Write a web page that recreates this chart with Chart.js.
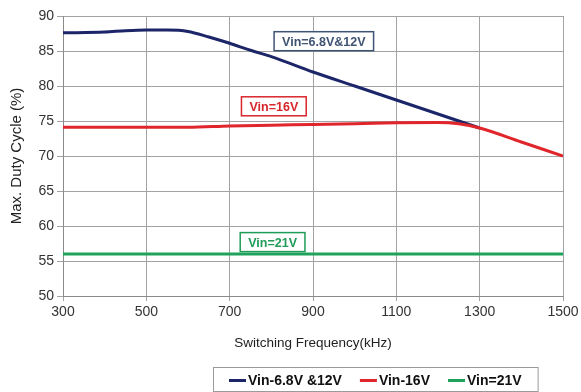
<!DOCTYPE html>
<html>
<head>
<meta charset="utf-8">
<script src="https://cdn.jsdelivr.net/npm/chart.js@4"></script>
<style>
  html, body { margin: 0; padding: 0; background: #fff; }
  #wrap { width: 581px; height: 392px; }
</style>
</head>
<body>
<div id="wrap"><canvas id="myChart"></canvas></div>
<script>
// data
const seriesNames = ['Vin-6.8V &12V', 'Vin-16V', 'Vin=21V'];

const freqLow = [300, 400, 450, 500, 550, 600, 650, 700, 750, 800, 900, 1000, 1100, 1200, 1300];
const dutyLow = [87.6, 87.7, 87.9, 88.0, 88.0, 87.8, 87.0, 86.1, 85.1, 84.2, 82.0, 80.0, 78.0, 76.0, 74.0];

const freqMid = [300, 500, 600, 700, 800, 900, 1000, 1100, 1200, 1250, 1300, 1400, 1500];
const dutyMid = [74.1, 74.1, 74.1, 74.3, 74.4, 74.5, 74.6, 74.75, 74.8, 74.6, 74.0, 72.0, 70.0];

const freqHigh = [300, 1500];
const dutyHigh = [56, 56];

const xTicks = [300, 500, 700, 900, 1100, 1300, 1500];
const yTicks = [50, 55, 60, 65, 70, 75, 80, 85, 90];

// callout boxes, anchored in data units
const callouts = [
  { text: 'Vin=6.8V&12V', x: 926, y: 86.4, color: '#3f5373' },
  { text: 'Vin=16V', x: 806, y: 77.1, color: '#d8262c' },
  { text: 'Vin=21V', x: 803, y: 57.7, color: '#1f9c58' }
];

const colors = ['#1b2568', '#e0252b', '#1fa35c'];
const FONT = '"Liberation Sans", Arial, sans-serif';

function pts(xs, ys) {
  return xs.map((x, i) => ({ x: x, y: ys[i] }));
}

const calloutPlugin = {
  id: 'callouts',
  afterDatasetsDraw(chart) {
    const ctx = chart.ctx;
    const xs = chart.scales.x, ys = chart.scales.y;
    ctx.save();
    ctx.font = 'bold 12.5px ' + FONT;
    ctx.textAlign = 'center';
    ctx.textBaseline = 'middle';
    callouts.forEach(c => {
      const cx = xs.getPixelForValue(c.x);
      const cy = ys.getPixelForValue(c.y);
      const w = ctx.measureText(c.text).width + 16;
      const h = 19;
      ctx.fillStyle = '#fff';
      ctx.fillRect(cx - w / 2, cy - h / 2, w, h);
      ctx.strokeStyle = c.color;
      ctx.lineWidth = 1.5;
      ctx.strokeRect(cx - w / 2, cy - h / 2, w, h);
      ctx.fillStyle = c.color;
      ctx.fillText(c.text, cx, cy + 1);
    });
    ctx.restore();
  }
};

const legendPlugin = {
  id: 'boxLegend',
  afterDraw(chart) {
    const ctx = chart.ctx;
    ctx.save();
    ctx.font = 'bold 14px ' + FONT;
    ctx.textBaseline = 'middle';
    ctx.textAlign = 'left';
    const y = 380.5;
    let x = 229;
    chart.data.datasets.forEach(ds => {
      ctx.strokeStyle = ds.borderColor;
      ctx.lineWidth = 3;
      ctx.beginPath();
      ctx.moveTo(x, y);
      ctx.lineTo(x + 17, y);
      ctx.stroke();
      x += 19;
      ctx.fillStyle = '#111';
      ctx.fillText(ds.label, x, y + 1);
      x += ctx.measureText(ds.label).width + 18;
    });
    ctx.strokeStyle = '#9a9a9a';
    ctx.lineWidth = 1;
    ctx.strokeRect(213.5, 367.5, x - 213 - 2, 24);
    ctx.restore();
  }
};

const ctx = document.getElementById('myChart');

let myChart = new Chart(ctx, {
  type: 'line',
  data: {
    datasets: [
      {
        label: seriesNames[0],
        data: pts(freqLow, dutyLow),
        borderColor: colors[0],
        borderWidth: 3,
        pointRadius: 0,
        cubicInterpolationMode: 'monotone',
        order: 2
      },
      {
        label: seriesNames[1],
        data: pts(freqMid, dutyMid),
        borderColor: colors[1],
        borderWidth: 3,
        pointRadius: 0,
        cubicInterpolationMode: 'monotone',
        order: 1
      },
      {
        label: seriesNames[2],
        data: pts(freqHigh, dutyHigh),
        borderColor: colors[2],
        borderWidth: 3,
        pointRadius: 0,
        order: 0
      }
    ]
  },
  options: {
    responsive: true,
    maintainAspectRatio: false,
    animation: false,
    layout: { padding: { top: 16, right: 18, bottom: 39, left: 0 } },
    plugins: {
      legend: { display: false },
      tooltip: { enabled: false }
    },
    scales: {
      x: {
        type: 'linear',
        min: 300,
        max: 1500,
        afterBuildTicks: s => { s.ticks = xTicks.map(v => ({ value: v })); },
        afterFit: s => { s.height = 57; s.paddingRight = 0; },
        ticks: {
          color: '#333',
          font: { family: FONT, size: 14 },
          padding: 3,
          maxRotation: 0,
          callback: v => String(v)
        },
        grid: { color: '#a3a3a3', lineWidth: 1, tickLength: 5 },
        border: { color: '#8a8a8a' },
        title: {
          display: true,
          text: 'Switching Frequency(kHz)',
          color: '#222',
          font: { family: FONT, size: 13.5 },
          padding: { top: 0, bottom: 2 }
        }
      },
      y: {
        min: 50,
        max: 90,
        afterBuildTicks: s => { s.ticks = yTicks.map(v => ({ value: v })); },
        afterFit: s => { s.width = 63; },
        ticks: {
          color: '#333',
          font: { family: FONT, size: 14 },
          padding: 3
        },
        grid: { color: '#a3a3a3', lineWidth: 1, tickLength: 6 },
        border: { color: '#8a8a8a' },
        title: {
          display: true,
          text: 'Max. Duty Cycle (%)',
          color: '#222',
          font: { family: FONT, size: 15 },
          padding: { top: 8, bottom: 0 }
        }
      }
    }
  },
  plugins: [calloutPlugin, legendPlugin]
});
</script>
</body>
</html>
